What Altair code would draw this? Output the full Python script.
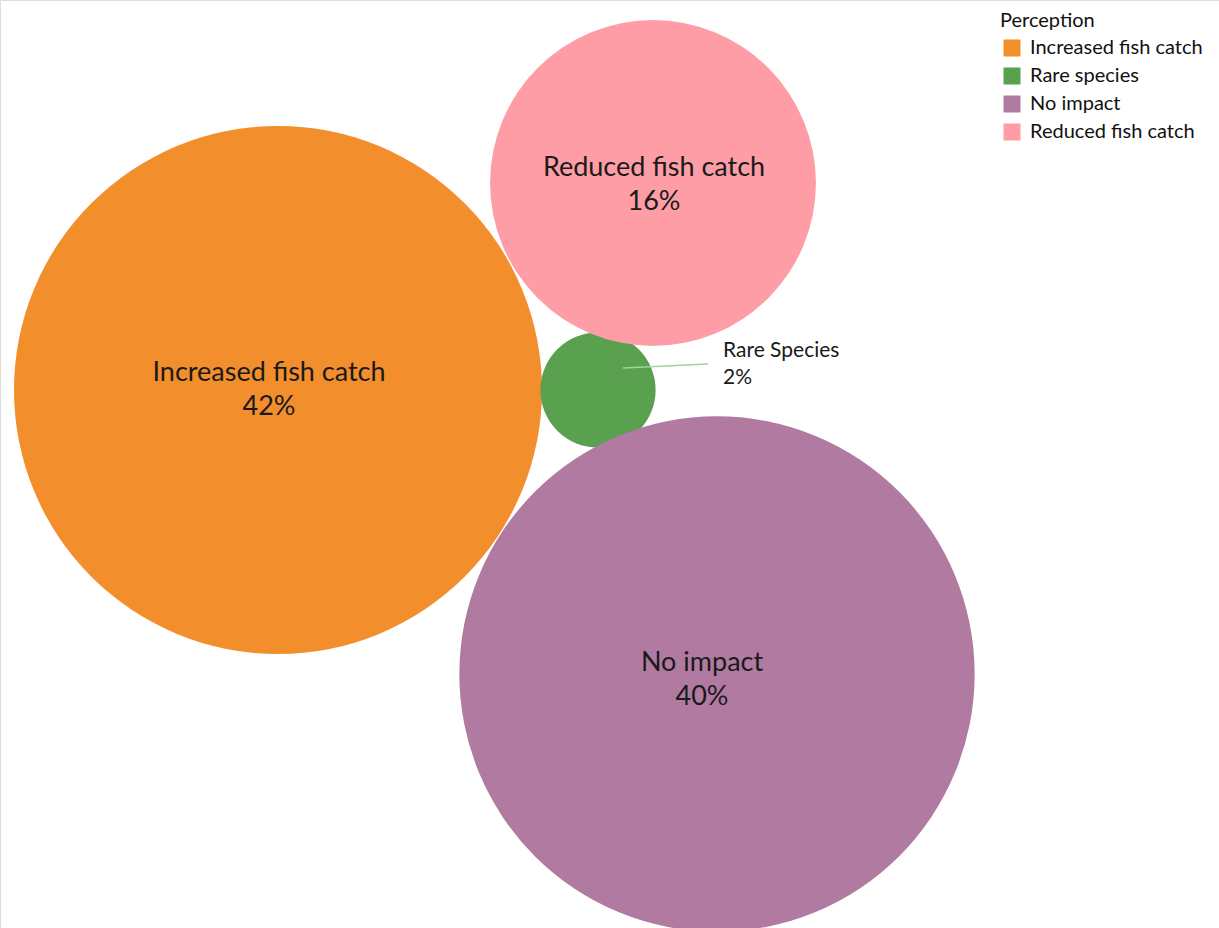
import altair as alt
import pandas as pd

# Data
categories = ["Increased fish catch", "Rare species", "No impact", "Reduced fish catch"]
bubble_labels = ["Increased fish catch", "Rare Species", "No impact", "Reduced fish catch"]
percent = [42, 2, 40, 16]
colors = ["#F28E2B", "#59A14F", "#B07AA1", "#FF9DA7"]
# bubble layout centres (layout units)
cx = [278, 598, 717, 653]
cy = [390, 390, 674, 183]
# label anchor positions (layout units)
lx = [269, 723, 702, 654]
ly = [390, 364, 680, 185]

df = pd.DataFrame({
    "Perception": categories,
    "label": [f"{l}\n{p}%" for l, p in zip(bubble_labels, percent)],
    "pct": percent,
    "x": cx,
    "y": cy,
    "lx": lx,
    "ly": ly,
})

big = df[df["pct"] >= 10]
small = df[df["pct"] < 10]

W, H = 1219, 928
xs = alt.Scale(domain=[0, W], nice=False, zero=False)
ys = alt.Scale(domain=[0, H], reverse=True, nice=False, zero=False)

circles = alt.Chart(df).mark_circle(opacity=1, clip=True).encode(
    x=alt.X("x:Q", scale=xs, axis=None),
    y=alt.Y("y:Q", scale=ys, axis=None),
    size=alt.Size("pct:Q", scale=alt.Scale(domain=[0, 42], range=[0, 528 * 528], zero=True), legend=None),
    color=alt.Color(
        "Perception:N",
        scale=alt.Scale(domain=categories, range=colors),
        sort=categories,
        legend=alt.Legend(
            title="Perception",
            orient="none",
            legendX=1000,
            legendY=11,
            symbolType="square",
            symbolSize=289,
            symbolStrokeWidth=0,
            symbolOffset=2,
            labelOffset=8,
            labelLimit=0,
            titleFont="Lato",
            titleFontSize=20,
            titleFontWeight="normal",
            titleColor="#111111",
            labelFont="Lato",
            labelFontSize=20,
            labelColor="#111111",
            rowPadding=8,
            titlePadding=7,
        ),
    ),
)

texts = alt.Chart(big).mark_text(
    font="Lato", fontSize=27, lineHeight=34, align="center", baseline="middle",
    lineBreak="\n", color="#1a1a1a", dy=-17,
).encode(
    x=alt.X("lx:Q", scale=xs),
    y=alt.Y("ly:Q", scale=ys),
    text="label:N",
)

small_df = small.assign(
    x0=small["x"] + 25, y0=small["y"] - 22,
    x_end=small["lx"] - 15, y_end=small["ly"],
)

leader = alt.Chart(small_df).mark_rule(color="#9fd49a", strokeWidth=1.5).encode(
    x=alt.X("x0:Q", scale=xs),
    y=alt.Y("y0:Q", scale=ys),
    x2="x_end:Q",
    y2="y_end:Q",
)

small_text = alt.Chart(small_df).mark_text(
    font="Lato", fontSize=21, lineHeight=27, align="left", baseline="middle",
    lineBreak="\n", color="#1a1a1a", dy=-13,
).encode(
    x=alt.X("lx:Q", scale=xs),
    y=alt.Y("ly:Q", scale=ys),
    text="label:N",
)

chart = alt.layer(circles, texts, leader, small_text).properties(
    width=W, height=H, padding=0, autosize=alt.AutoSizeParams(type="none"),
).configure_view(stroke=None).configure(background="white")

chart.save("out.html", embed_options={"renderer": "svg", "actions": False})
